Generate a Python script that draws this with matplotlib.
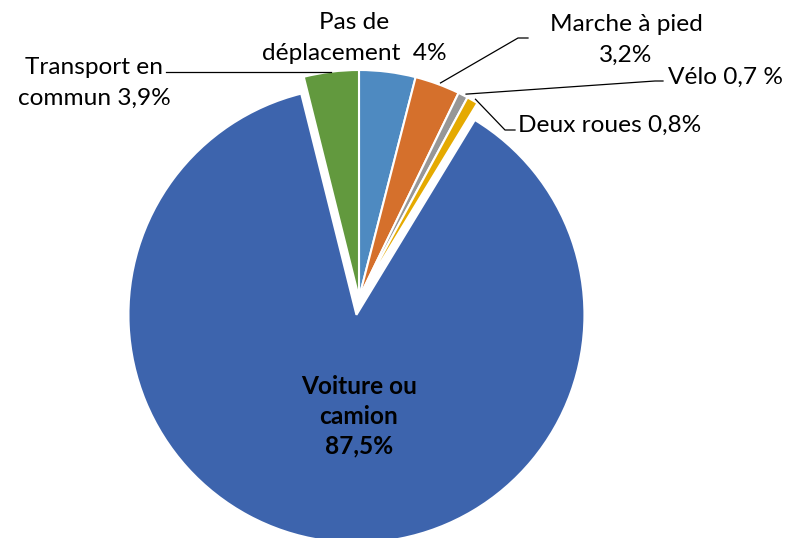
import numpy as np
import matplotlib
matplotlib.use("Agg")
import matplotlib.pyplot as plt

# data (clockwise from 12 o'clock)
categories = ["Pas de déplacement", "Marche à pied", "Vélo", "Deux roues",
              "Voiture ou camion", "Transport en commun"]
shares = [4.0, 3.2, 0.7, 0.8, 87.5, 3.9]
labels = ["Pas de\ndéplacement  4%", "Marche à pied\n3,2%", "Vélo 0,7 %",
          "Deux roues 0,8%", "Voiture ou\ncamion\n87,5%", "Transport en\ncommun 3,9%"]
colors = ["#4E8AC1", "#D5702C", "#979797", "#E5AA00", "#3D64AD", "#62993E"]

W, H = 785, 538
CX, CY, R = 359, H - 298, 228
explode = [0, 0, 0, 0, 17, 0]  # absolute offset in data (pixel) units
FONT = "Lato"
FS = 17.6

fig = plt.figure(figsize=(W / 100, H / 100), dpi=100)
ax = fig.add_axes([0, 0, 1, 1])
ax.set_xlim(0, W)
ax.set_ylim(0, H)
ax.set_aspect("equal")
ax.axis("off")

wedges, _ = ax.pie(shares, colors=colors, explode=explode, startangle=90,
                   counterclock=False, center=(CX, CY), radius=R,
                   wedgeprops=dict(edgecolor="white", linewidth=1.5))
ax.set_xlim(0, W)
ax.set_ylim(0, H)


def anchor(w):
    a = np.deg2rad((w.theta1 + w.theta2) / 2)
    cx, cy = w.center
    return cx + w.r * np.cos(a), cy + w.r * np.sin(a)


# labels: (x, y, ha)
pos = {
    0: (354, H - 38, "center"),
    1: (626, H - 40, "center"),
    2: (668, H - 77, "left"),
    3: (518, H - 125, "left"),
    4: (359, H - 416, "center"),
    5: (94, H - 83, "center"),
}
for i, (x, y, ha) in pos.items():
    ax.text(x, y, labels[i], ha=ha, va="center", multialignment="center",
            fontsize=FS, family=FONT, color="black",
            fontweight="bold" if i == 4 else "normal",
            linespacing=1.36 if i == 4 else 1.6)

# leader lines: elbow points
elbows = {
    1: [(518, H - 38), (528, H - 38)],
    2: [(655, H - 81), (663, H - 81)],
    3: [(505, H - 130), (515, H - 130)],
}
for i, pts in elbows.items():
    ax_, ay_ = anchor(wedges[i])
    xs = [ax_ + 3] + [p[0] for p in pts]
    ys = [ay_ + 1] + [p[1] for p in pts]
    ax.plot(xs, ys, color="black", lw=0.9)

tx, ty = anchor(wedges[5])
ax.plot([tx, 166], [ty, ty], color="black", lw=0.9)

fig.savefig("out.png", dpi=100)
